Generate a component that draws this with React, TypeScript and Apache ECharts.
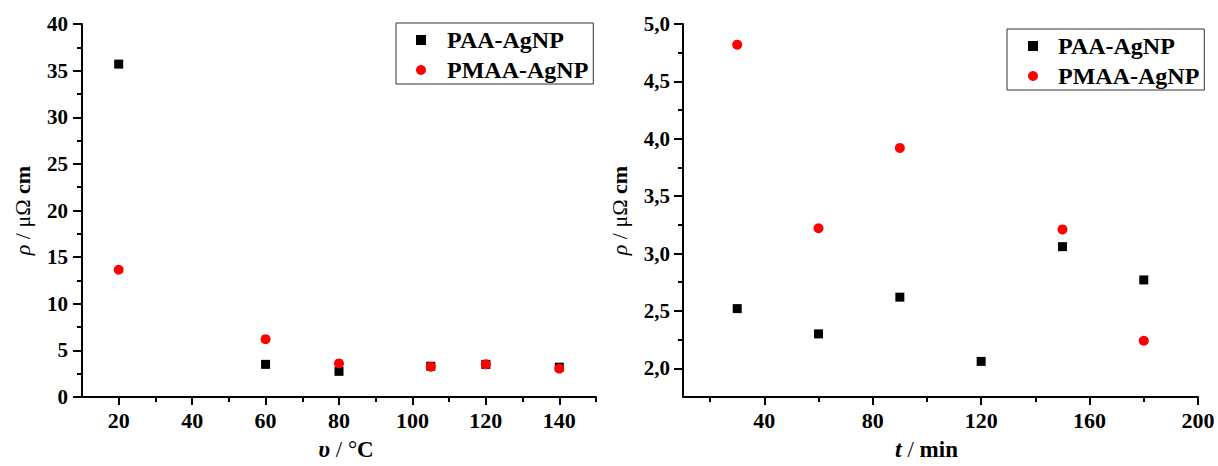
import React, { useEffect, useRef } from "react";
import * as echarts from "echarts";

// ---- Data ----
const tempCategories = [20, 60, 80, 105, 120, 140];
const tempPAA = [35.7, 3.5, 2.75, 3.3, 3.5, 3.2];
const tempPMAA = [13.65, 6.2, 3.6, 3.25, 3.5, 3.05];

const timeCategories = [30, 60, 90, 120, 150, 180];
const timePAA = [2.52, 2.3, 2.62, 2.06, 3.06, 2.77];
const timePMAA: (number | null)[] = [4.82, 3.22, 3.92, null, 3.21, 2.24];

const leftXMajor = [20, 40, 60, 80, 100, 120, 140];
const leftXMinor = [30, 50, 70, 90, 110, 130, 150];
const rightXMajor = [40, 80, 120, 160, 200];
const rightXMinor = [20, 60, 100, 140, 180];
const rightYMajor = [2.0, 2.5, 3.0, 3.5, 4.0, 4.5, 5.0];
const rightYMinor = [2.25, 2.75, 3.25, 3.75, 4.25, 4.75];

const seriesNames = ["PAA-AgNP", "PMAA-AgNP"];

const FONT = "'Liberation Serif', 'Times New Roman', serif";
const BLACK = "#000";

export default function App() {
  const ref = useRef<HTMLDivElement>(null);

  useEffect(() => {
    if (!ref.current) return;
    const chart = echarts.init(ref.current, undefined, { renderer: "svg" });

    const pair = (xs: number[], ys: (number | null)[]) =>
      xs.map((x, i) => [x, ys[i]]).filter((p) => p[1] !== null);

    const axisLine = { show: true, onZero: false, lineStyle: { color: BLACK, width: 2 } };
    const yLabel = { color: BLACK, fontFamily: FONT, fontWeight: "bold" as const, fontSize: 21, margin: 14 };
    const xLabel = { color: BLACK, fontFamily: FONT, fontWeight: "bold" as const, fontSize: 22, margin: 12 };

    const yNameStyle = {
      fontFamily: FONT,
      fontSize: 22,
      color: BLACK,
      rich: {
        i: { fontFamily: FONT, fontSize: 22, fontStyle: "italic", color: BLACK },
        n: { fontFamily: FONT, fontSize: 22, color: BLACK },
        b: { fontFamily: FONT, fontSize: 22, fontWeight: "bold", color: BLACK },
      },
    };
    const xNameStyle = (shift: number) => ({
      fontFamily: FONT,
      fontSize: 23,
      color: BLACK,
      padding: shift >= 0 ? [0, 0, 0, shift * 2] : [0, -shift * 2, 0, 0],
      rich: {
        i: { fontFamily: FONT, fontSize: 24, fontStyle: "italic", fontWeight: "bold", color: BLACK },
        n: { fontFamily: FONT, fontSize: 23, color: BLACK },
        b: { fontFamily: FONT, fontSize: 23, fontWeight: "bold", color: BLACK },
      },
    });

    const legendBase = {
      orient: "vertical" as const,
      itemWidth: 10,
      itemHeight: 10,
      itemGap: 6,
      borderColor: "#333",
      borderWidth: 1,
      borderRadius: 0,
      selectedMode: false,
      textStyle: { fontFamily: FONT, fontWeight: "bold" as const, fontSize: 24, color: BLACK, padding: [0, 0, 0, 16] },
      data: [
        { name: seriesNames[0], icon: "rect" },
        { name: seriesNames[1], icon: "circle" },
      ],
    };

    chart.setOption({
      animation: false,
      backgroundColor: "#fff",
      grid: [
        { left: 82, top: 24, width: 514, height: 377 },
        { left: 683, top: 24, width: 515, height: 377 },
      ],
      legend: [
        { ...legendBase, left: 396, top: 23, padding: [5, 5, 2, 20] },
        { ...legendBase, left: 1007, top: 29, padding: [5, 5, 2, 21], textStyle: { ...legendBase.textStyle, padding: [0, 0, 0, 15] } },
      ],
      xAxis: [
        {
          type: "value", gridIndex: 0, min: 10, max: 150,
          axisLine,
          axisTick: { show: true, customValues: leftXMajor, length: 8, lineStyle: { color: BLACK, width: 2 } },
          axisLabel: { ...xLabel, customValues: leftXMajor },
          splitLine: { show: false },
          name: "{i|υ}{n| / °}{b|C}", nameLocation: "middle", nameGap: 40,
          nameTextStyle: xNameStyle(7),
        },
        {
          type: "value", gridIndex: 0, min: 10, max: 150, position: "bottom",
          axisLine: { show: false },
          axisTick: { show: true, customValues: leftXMinor, length: 5, lineStyle: { color: BLACK, width: 2 } },
          axisLabel: { show: false },
          splitLine: { show: false },
        },
        {
          type: "value", gridIndex: 1, min: 10, max: 200,
          axisLine,
          axisTick: { show: true, customValues: rightXMajor, length: 8, lineStyle: { color: BLACK, width: 2 } },
          axisLabel: { ...xLabel, customValues: rightXMajor },
          splitLine: { show: false },
          name: "{i|t}{n| / }{b|min}", nameLocation: "middle", nameGap: 40,
          nameTextStyle: xNameStyle(-14),
        },
        {
          type: "value", gridIndex: 1, min: 10, max: 200, position: "bottom",
          axisLine: { show: false },
          axisTick: { show: true, customValues: rightXMinor, length: 5, lineStyle: { color: BLACK, width: 2 } },
          axisLabel: { show: false },
          splitLine: { show: false },
        },
      ],
      yAxis: [
        {
          type: "value", gridIndex: 0, min: 0, max: 40, interval: 5,
          axisLine,
          axisTick: { show: true, length: 9, lineStyle: { color: BLACK, width: 2 } },
          minorTick: { show: true, splitNumber: 2, length: 5, lineStyle: { color: BLACK, width: 2 } },
          axisLabel: yLabel,
          splitLine: { show: false },
          name: "{i|ρ}{n| / μΩ }{b|cm}", nameLocation: "middle", nameGap: 49,
          nameTextStyle: yNameStyle,
        },
        {
          type: "value", gridIndex: 1, min: 1.75, max: 5.0,
          axisLine,
          axisTick: { show: true, customValues: rightYMajor, length: 9, lineStyle: { color: BLACK, width: 2 } },
          axisLabel: {
            ...yLabel, margin: 13, customValues: rightYMajor,
            formatter: (v: number) => v.toFixed(1).replace(".", ","),
          },
          splitLine: { show: false },
          name: "{i|ρ}{n| / μΩ }{b|cm}", nameLocation: "middle", nameGap: 53,
          nameTextStyle: yNameStyle,
        },
        {
          type: "value", gridIndex: 1, min: 1.75, max: 5.0, position: "left",
          axisLine: { show: false },
          axisTick: { show: true, customValues: rightYMinor, length: 5, lineStyle: { color: BLACK, width: 2 } },
          axisLabel: { show: false },
          splitLine: { show: false },
        },
      ],
      series: [
        {
          name: seriesNames[0], type: "scatter", xAxisIndex: 0, yAxisIndex: 0,
          symbol: "rect", symbolSize: 9, itemStyle: { color: BLACK, opacity: 1 },
          data: pair(tempCategories, tempPAA),
        },
        {
          name: seriesNames[1], type: "scatter", xAxisIndex: 0, yAxisIndex: 0,
          symbol: "circle", symbolSize: 10, itemStyle: { color: "#ff0000", opacity: 1 },
          data: pair(tempCategories, tempPMAA),
        },
        {
          name: seriesNames[0], type: "scatter", xAxisIndex: 2, yAxisIndex: 1,
          symbol: "rect", symbolSize: 9, itemStyle: { color: BLACK, opacity: 1 },
          data: pair(timeCategories, timePAA),
        },
        {
          name: seriesNames[1], type: "scatter", xAxisIndex: 2, yAxisIndex: 1,
          symbol: "circle", symbolSize: 10, itemStyle: { color: "#ff0000", opacity: 1 },
          data: pair(timeCategories, timePMAA),
        },
      ],
    });

    return () => chart.dispose();
  }, []);

  return (
    <div
      ref={ref}
      style={{ position: "fixed", left: 0, top: 0, width: 1218, height: 466, background: "#fff" }}
    />
  );
}
